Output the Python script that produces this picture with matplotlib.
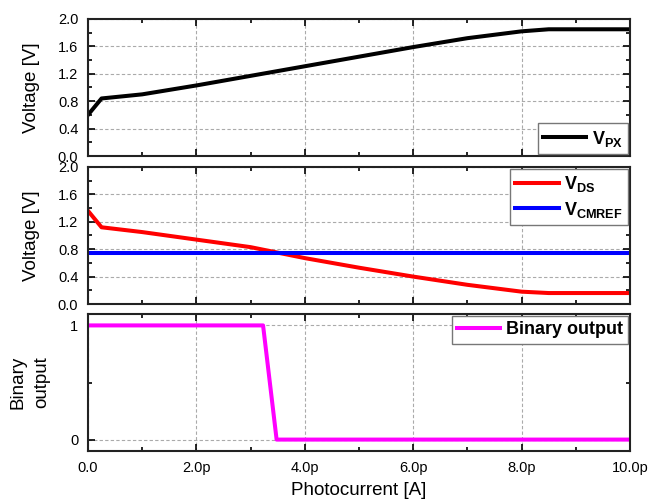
import matplotlib
matplotlib.use("Agg")
import matplotlib.pyplot as plt
from matplotlib.ticker import MultipleLocator, FuncFormatter, FixedLocator

plt.rcParams['font.family'] = ['Liberation Sans', 'DejaVu Sans']
plt.rcParams['mathtext.fontset'] = 'custom'
plt.rcParams['mathtext.rm'] = 'Liberation Sans'
plt.rcParams['mathtext.bf'] = 'Liberation Sans:bold'
plt.rcParams['mathtext.it'] = 'Liberation Sans:italic'

# Photocurrent in pA
x_px = [0.0, 0.25, 1.0, 2.0, 3.0, 4.0, 5.0, 6.0, 7.0, 8.0, 8.5, 10.0]
v_px = [0.60, 0.84, 0.90, 1.03, 1.17, 1.31, 1.45, 1.59, 1.72, 1.82, 1.85, 1.85]

x_ds = [0.0, 0.25, 1.0, 2.0, 3.0, 4.0, 5.0, 6.0, 7.0, 8.0, 8.5, 10.0]
v_ds = [1.36, 1.12, 1.05, 0.94, 0.83, 0.67, 0.53, 0.40, 0.28, 0.18, 0.16, 0.16]

x_cm = [0.0, 10.0]
v_cm = [0.75, 0.75]

x_bin = [0.0, 3.23, 3.48, 10.0]
v_bin = [1, 1, 0, 0]

fig = plt.figure(figsize=(6.48, 4.99), dpi=100)
L, R = 88/648, 630/648
def pos(top, bot):
    return [L, 1 - bot/499, R - L, (bot - top)/499]

ax1 = fig.add_axes(pos(19, 156))
ax2 = fig.add_axes(pos(167, 304))
ax3 = fig.add_axes(pos(314, 451))

lw = 2.9
ax1.plot(x_px, v_px, color='black', lw=lw, label=r'$\mathbf{V_{PX}}$')
ax2.plot(x_ds, v_ds, color='#ff0000', lw=lw, label=r'$\mathbf{V_{DS}}$')
ax2.plot(x_cm, v_cm, color='#0000ff', lw=lw, label=r'$\mathbf{V_{CMREF}}$')
ax3.plot(x_bin, v_bin, color='#ff00ff', lw=lw, label='Binary output')

def xfmt(v, p):
    if abs(v) < 1e-9:
        return '0.0'
    return f'{v:.1f}p'

for ax in (ax1, ax2, ax3):
    ax.set_xlim(0, 10)
    ax.xaxis.set_major_locator(MultipleLocator(2))
    ax.xaxis.set_minor_locator(MultipleLocator(1))
    ax.tick_params(which='both', direction='in', top=True, right=True, labelsize=10.5)
    ax.tick_params(which='major', length=5, width=1.2)
    ax.tick_params(which='minor', length=3, width=1.2)
    ax.tick_params(axis='y', pad=7)
    ax.tick_params(axis='x', pad=7)
    for s in ax.spines.values():
        s.set_linewidth(1.5)
        s.set_color('#222222')
    ax.grid(True, which='major', ls=(0, (3, 2)), color='#aaaaaa', lw=0.8)
    ax.set_axisbelow(True)

for ax in (ax1, ax2):
    ax.set_ylim(0, 2.0)
    ax.yaxis.set_major_locator(MultipleLocator(0.4))
    ax.yaxis.set_minor_locator(MultipleLocator(0.2))
    ax.yaxis.set_major_formatter(FuncFormatter(lambda v, p: f'{v:.1f}'))
    ax.tick_params(labelbottom=False)
    ax.set_ylabel('Voltage [V]', fontsize=13.5)
    ax.yaxis.set_label_coords(-0.089, 0.5)

ax3.set_ylim(-0.1, 1.1)
ax3.yaxis.set_major_locator(FixedLocator([0, 1]))
ax3.yaxis.set_minor_locator(FixedLocator([0.5]))
ax3.xaxis.set_major_formatter(FuncFormatter(xfmt))
ax3.set_ylabel('Binary\noutput', fontsize=13.5, linespacing=1.5)
ax3.yaxis.set_label_coords(-0.07, 0.5)
ax3.set_xlabel('Photocurrent [A]', fontsize=13.5)
ax3.xaxis.set_label_coords(0.5, -0.225)

legkw = dict(fancybox=False, edgecolor='#777777', framealpha=1,
             handlelength=2.4, borderpad=0.3, labelspacing=0.3,
             handletextpad=0.3, borderaxespad=0.1, prop={'weight': 'bold', 'size': 13})
l1 = ax1.legend(loc='lower right', **legkw)
l2 = ax2.legend(loc='upper right', **legkw)
l3 = ax3.legend(loc='upper right', **legkw)
for l in (l1, l2, l3):
    l.get_frame().set_linewidth(1.0)

fig.savefig('out.png', dpi=100)
